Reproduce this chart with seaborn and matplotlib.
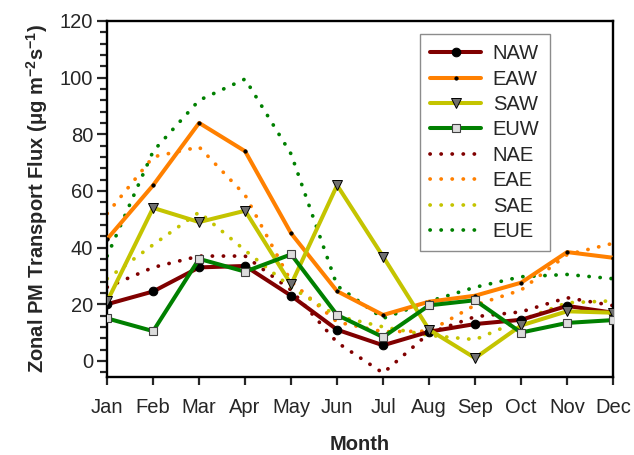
#______________________________________________________________________________
# Required Modules
import numpy as np
import pandas as pd
import matplotlib
matplotlib.use("Agg")
import matplotlib.pyplot as plt
from matplotlib.ticker import MultipleLocator
import seaborn as sns
#______________________________________________________________________________
# Monthly zonal PM transport flux values
months = ['Jan', 'Feb', 'Mar', 'Apr', 'May', 'Jun', 'Jul', 'Aug', 'Sep', 'Oct', 'Nov', 'Dec']

naw = [20, 24.5, 33, 33.5, 23, 11, 5.5, 10.3, 13, 14.5, 19.4, 17]
eaw = [43, 62, 84, 74, 45, 24.6, 16.2, 20.9, 23, 27.6, 38.4, 36.4]
saw = [21, 54, 49, 53, 27, 62, 36.8, 11, 1, 12.5, 17.5, 17]
euw = [15, 10.5, 36, 31.5, 37.6, 16.2, 8.4, 19.6, 21.4, 10, 13.4, 14.4]

nae = [26, 33, 37, 37, 25, 6.5, -4.3, 9.8, 15.6, 17.3, 22.3, 19.5]
eae = [52, 72, 75.5, 58.5, 28, 13.7, 10.3, 10.5, 19.7, 25, 37.5, 41.5]
sae = [29, 41, 52.5, 39, 26, 15.8, 12, 9, 7.5, 14.4, 20.5, 21.2]
eue = [37, 74, 92, 99.5, 73, 26.5, 15, 21, 26, 29.7, 30.5, 29]
#______________________________________________________________________________
# Long-form table for seaborn
series = {'NAW': naw, 'EAW': eaw, 'SAW': saw, 'EUW': euw,
          'NAE': nae, 'EAE': eae, 'SAE': sae, 'EUE': eue}
df = pd.DataFrame([
    {'month': i, 'name': k, 'flux': v}
    for k, vals in series.items() for i, v in enumerate(vals)
])

colors = {'NA': '#800000', 'EA': '#FF8000', 'SA': '#C4C400', 'EU': '#008000'}
#______________________________________________________________________________
# PLOTTING
sns.set_style("ticks")
plt.rcParams['font.family'] = ['Liberation Sans', 'DejaVu Sans']
plt.rcParams['mathtext.fontset'] = 'custom'
plt.rcParams['mathtext.rm'] = 'Liberation Sans'
plt.rcParams['mathtext.bf'] = 'Liberation Sans:bold'

fig = plt.figure(figsize=(6.34, 4.55), dpi=100)
ax = fig.add_axes([0.169, 0.172, 0.798, 0.782])

handles = {}
# dotted (E) series underneath
for name in ['NAE', 'EAE', 'SAE', 'EUE']:
    sns.lineplot(data=df[df['name'] == name], x='month', y='flux', ax=ax,
                 color=colors[name[:2]], lw=2.7, zorder=2)
    line = ax.lines[-1]
    line.set_linestyle((0, (0.05, 2.9)))
    line.set_dash_capstyle('round')
    handles[name] = line

markers = {'NAW': dict(marker='o', ms=6.2, mfc='black', mec='black'),
           'EAW': dict(marker='o', ms=2.3, mfc='black', mec='black'),
           'SAW': dict(marker='v', ms=7, mfc='#707070', mec='black', mew=0.7),
           'EUW': dict(marker='s', ms=5.6, mfc='#DCDCDC', mec='#404040', mew=0.8)}
for name in ['NAW', 'EAW', 'SAW', 'EUW']:
    sns.lineplot(data=df[df['name'] == name], x='month', y='flux', ax=ax,
                 color=colors[name[:2]], lw=2.9, zorder=3, **markers[name])
    handles[name] = ax.lines[-1]

ax.set_xlim(0, 11)
ax.set_ylim(-5.6, 120)
ax.set_xticks(range(12))
ax.set_xticklabels(months)
ax.set_yticks(range(0, 121, 20))
ax.yaxis.set_minor_locator(MultipleLocator(4))
ax.tick_params(axis='both', which='major', labelsize=14.5, width=1.6, direction='out')
ax.tick_params(axis='y', which='major', length=7, pad=3)
ax.tick_params(axis='y', which='minor', width=1.6, length=5, direction='out')
ax.tick_params(axis='x', length=6, pad=9)
for sp in ax.spines.values():
    sp.set_linewidth(1.7)
    sp.set_color('black')

ax.set_xlabel('Month', fontsize=14.5, fontweight='bold', labelpad=13)
ax.set_ylabel('Zonal PM Transport Flux (μg m$^{\\mathbf{-2}}$s$^{\\mathbf{-1}}$)',
              fontsize=14.5, fontweight='bold', labelpad=7)

order = ['NAW', 'EAW', 'SAW', 'EUW', 'NAE', 'EAE', 'SAE', 'EUE']
leg = ax.legend([handles[n] for n in order], order, loc='upper left',
                bbox_to_anchor=(0.619, 0.963), fontsize=14.5, frameon=True,
                fancybox=False, edgecolor='#707070', handlelength=2.5,
                labelspacing=0.32, borderpad=0.5, handletextpad=0.6,
                borderaxespad=0)
leg.get_frame().set_linewidth(1.0)

fig.savefig('out.png', dpi=100)
